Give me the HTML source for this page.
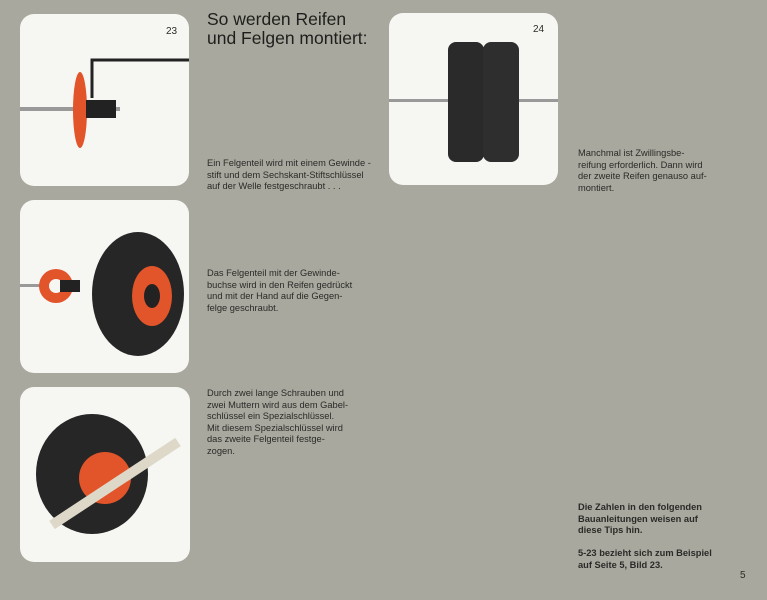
<!DOCTYPE html>
<html><head><meta charset="utf-8"><style>
body{margin:0;width:767px;height:600px;background:#a8a89e;position:relative;overflow:hidden;font-family:"Liberation Sans",sans-serif;color:#2a2a28}
.p{position:absolute;background:#f6f6f3;border-radius:14px}
.t{position:absolute;font-size:9.3px;line-height:11.6px;white-space:nowrap}
h1{position:absolute;left:207px;top:10px;margin:0;font-weight:normal;font-size:17.5px;line-height:19px;color:#1e1e1c}
.n{position:absolute;font-size:10px}
</style></head><body>
<div class="p" style="left:20px;top:14px;width:169px;height:172px"></div>
<div class="p" style="left:20px;top:200px;width:169px;height:173px"></div>
<div class="p" style="left:20px;top:387px;width:170px;height:175px"></div>
<div class="p" style="left:389px;top:13px;width:169px;height:172px"></div>
<svg style="position:absolute;left:0;top:0" width="767" height="600">
<!-- panel 23 -->
<rect x="20" y="107" width="100" height="4" fill="#999"/>
<path d="M92 98 V60 H189" stroke="#222" stroke-width="3" fill="none"/>
<ellipse cx="80" cy="110" rx="7" ry="38" fill="#e2542a"/>
<rect x="86" y="100" width="30" height="18" fill="#222"/>
<!-- panel 24 -->
<rect x="389" y="99" width="169" height="3" fill="#999"/>
<rect x="448" y="42" width="36" height="120" rx="8" fill="#2a2a2a"/>
<rect x="483" y="42" width="36" height="120" rx="8" fill="#2e2e2e"/>
<!-- panel 2 -->
<rect x="20" y="284" width="60" height="3" fill="#999"/>
<circle cx="56" cy="286" r="17" fill="#e2542a"/><circle cx="56" cy="286" r="7" fill="#f6f6f3"/>
<rect x="60" y="280" width="20" height="12" fill="#222"/>
<ellipse cx="138" cy="294" rx="46" ry="62" fill="#262626"/>
<ellipse cx="152" cy="296" rx="20" ry="30" fill="#e2542a"/>
<ellipse cx="152" cy="296" rx="8" ry="12" fill="#222"/>
<!-- panel 3 -->
<ellipse cx="92" cy="474" rx="56" ry="60" fill="#262626"/>
<circle cx="105" cy="478" r="26" fill="#e2542a"/>
<path d="M52 525 L178 442" stroke="#ddd8c8" stroke-width="10"/>
</svg>
<div class="n" style="left:166px;top:26px">23</div>
<div class="n" style="left:533px;top:24px">24</div>
<h1>So werden Reifen<br>und Felgen montiert:</h1>
<div class="t" style="left:207px;top:158px">Ein Felgenteil wird mit einem Gewinde -<br>stift und dem Sechskant-Stiftschlüssel<br>auf der Welle festgeschraubt . . .</div>
<div class="t" style="left:207px;top:268px">Das Felgenteil mit der Gewinde-<br>buchse wird in den Reifen gedrückt<br>und mit der Hand auf die Gegen-<br>felge geschraubt.</div>
<div class="t" style="left:207px;top:388px">Durch zwei lange Schrauben und<br>zwei Muttern wird aus dem Gabel-<br>schlüssel ein Spezialschlüssel.<br>Mit diesem Spezialschlüssel wird<br>das zweite Felgenteil festge-<br>zogen.</div>
<div class="t" style="left:578px;top:148px">Manchmal ist Zwillingsbe-<br>reifung erforderlich. Dann wird<br>der zweite Reifen genauso auf-<br>montiert.</div>
<div class="t" style="left:578px;top:502px;font-weight:bold">Die Zahlen in den folgenden<br>Bauanleitungen weisen auf<br>diese Tips hin.<br><br style="line-height:6px">5-23 bezieht sich zum Beispiel<br>auf Seite 5, Bild 23.</div>
<div class="n" style="left:740px;top:570px">5</div>
</body></html>
